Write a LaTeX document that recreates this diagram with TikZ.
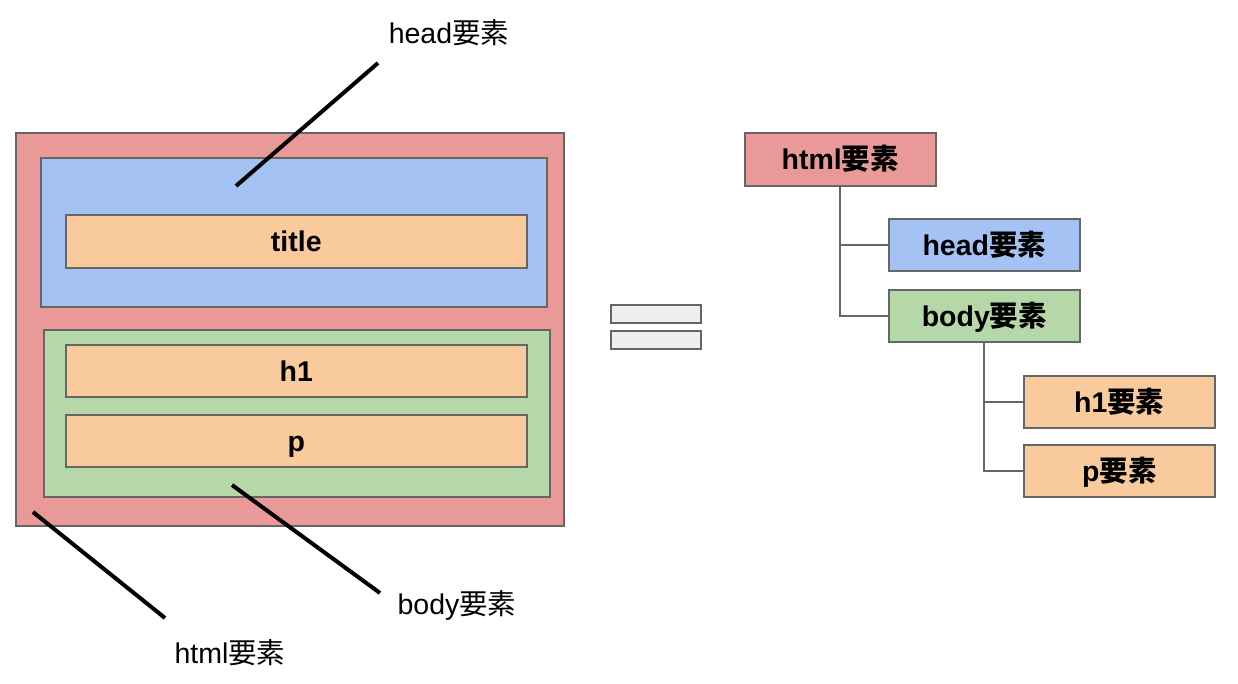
\documentclass[tikz,border=0pt]{standalone}
\usepackage{fontspec}
\setmainfont{Liberation Sans}
\newfontfamily\cjk{Noto Sans CJK JP}
\newcommand{\yoso}{{\cjk 要素}}
\definecolor{cred}{HTML}{EA9999}
\definecolor{cblue}{HTML}{A4C2F4}
\definecolor{cpeach}{HTML}{F9CB9C}
\definecolor{cgreen}{HTML}{B6D7A8}
\definecolor{cgray}{HTML}{EFEFEF}
\definecolor{cedge}{HTML}{666666}
\begin{document}
\begin{tikzpicture}[x=1pt,y=-1pt,
  box/.style={draw=cedge,line width=1.6pt,inner sep=0pt,anchor=north west},
  lbl/.style={font=\fontsize{28.5}{30}\selectfont,text=black},
  blbl/.style={font=\fontsize{28.5}{30}\selectfont\bfseries,text=black,inner sep=0pt,text height=22pt,text depth=1pt},
  pointer/.style={line width=4pt,black},
  tree/.style={draw=cedge,line width=1.6pt}]
\useasboundingbox (0,0) rectangle (1238,684);
% left nested boxes
\node[box,fill=cred,minimum width=548pt,minimum height=393pt] (html) at (15,132) {};
\node[box,fill=cblue,minimum width=506pt,minimum height=149pt] (head) at (40,157) {};
\node[box,fill=cpeach,minimum width=461pt,minimum height=53pt] (title) at (65,214) {};
\node[blbl] at (title.center) {title};
\node[box,fill=cgreen,minimum width=506pt,minimum height=167pt] (body) at (43,329) {};
\node[box,fill=cpeach,minimum width=461pt,minimum height=52pt] (h1) at (65,344) {};
\node[blbl] at (h1.center) {h1};
\node[box,fill=cpeach,minimum width=461pt,minimum height=52pt] (p) at (65,414) {};
\node[blbl] at (p.center) {p};
% pointer labels
\node[lbl] (headlbl) at (449,33) {head\yoso};
\node[lbl] (bodylbl) at (457,605) {body\yoso};
\node[lbl] (htmllbl) at (230,653) {html\yoso};
\coordinate (hs) at (378,63);
\coordinate (he) at (236,186);
\coordinate (bs) at (380,593);
\coordinate (be) at (232,485);
\coordinate (ms) at (165,618);
\coordinate (me) at (33,512);
\draw[pointer] (hs) -- (he);
\draw[pointer] (bs) -- (be);
\draw[pointer] (ms) -- (me);
% equals sign
\node[box,fill=cgray,minimum width=90pt,minimum height=18pt] (eq1) at (610,304) {};
\node[box,fill=cgray,minimum width=90pt,minimum height=18pt] (eq2) at (610,330) {};
% tree
\node[box,fill=cred,minimum width=191pt,minimum height=53pt] (thtml) at (744,132) {};
\node[blbl] at (thtml.center) {html\yoso};
\node[box,fill=cblue,minimum width=191pt,minimum height=52pt] (thead) at (888,218) {};
\node[blbl] at (thead.center) {head\yoso};
\node[box,fill=cgreen,minimum width=191pt,minimum height=52pt] (tbody) at (888,289) {};
\node[blbl] at (tbody.center) {body\yoso};
\node[box,fill=cpeach,minimum width=191pt,minimum height=52pt] (th1) at (1023,375) {};
\node[blbl] at (th1.center) {h1\yoso};
\node[box,fill=cpeach,minimum width=191pt,minimum height=52pt] (tp) at (1023,444) {};
\node[blbl] at (tp.center) {p\yoso};
\draw[tree] (thtml.south) ++(-0.5,0) |- (thead.west);
\draw[tree] (thtml.south) ++(-0.5,0) |- (tbody.west);
\draw[tree] (tbody.south) ++(-0.5,0) |- (th1.west);
\draw[tree] (tbody.south) ++(-0.5,0) |- (tp.west);
\end{tikzpicture}
\end{document}
